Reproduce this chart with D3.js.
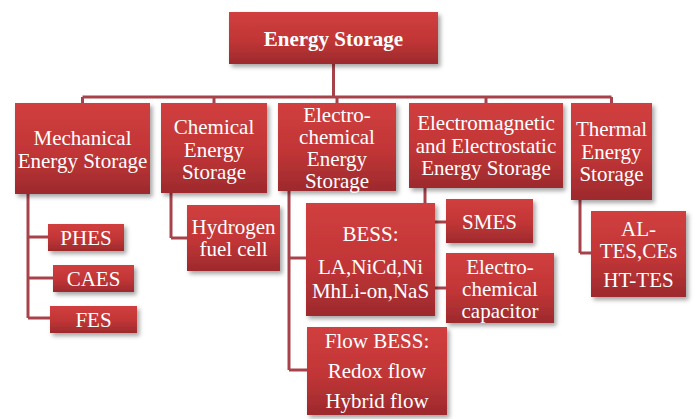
<!DOCTYPE html>
<html>
<head>
<meta charset="utf-8">
<script src="https://cdn.jsdelivr.net/npm/d3@7"></script>
<style>
  html, body { margin: 0; padding: 0; background: #fff; }
  svg { display: block; }
  text { font-family: "Liberation Serif", "Times New Roman", serif; fill: #fff; }
</style>
</head>
<body>
<div id="chart"></div>
<script>
// ---- data ----
const rootLabel = ["Energy Storage"];
const categoryIds = ["mech", "chem", "elec", "emag", "therm"];
const categoryLabels = [
  ["Mechanical", "Energy Storage"],
  ["Chemical", "Energy", "Storage"],
  ["Electro-", "chemical", "Energy", "Storage"],
  ["Electromagnetic", "and Electrostatic", "Energy Storage"],
  ["Thermal", "Energy", "Storage"],
];
const leafIds = ["phes", "caes", "fes", "h2", "bess", "flow", "smes", "ecap", "tes"];
const leafParents = ["mech", "mech", "mech", "chem", "elec", "elec", "emag", "emag", "therm"];
const leafLabels = [
  ["PHES"],
  ["CAES"],
  ["FES"],
  ["Hydrogen", "fuel cell"],
  ["BESS:", "LA,NiCd,Ni", "MhLi-on,NaS"],
  ["Flow BESS:", "Redox flow", "Hybrid flow"],
  ["SMES"],
  ["Electro-", "chemical", "capacitor"],
  ["AL-", "TES,CEs", "HT-TES"],
];

// ---- layout (box geometry, text line centres, connector positions) ----
const layout = {
  root:  { x: 229, y: 12,  w: 209, h: 52,  ty: [39] },
  mech:  { x: 15,  y: 103, w: 135, h: 91,  ty: [138, 161], trunk: 28 },
  chem:  { x: 161, y: 103, w: 106, h: 90,  ty: [127, 150, 172], trunk: 171 },
  elec:  { x: 278, y: 103, w: 118, h: 88,  ty: [115, 137, 159, 181], trunk: 289 },
  emag:  { x: 409, y: 103, w: 154, h: 85,  ty: [123, 146, 168], trunk: 425 },
  therm: { x: 571, y: 103, w: 81,  h: 97,  ty: [129, 152, 174], trunk: 580 },
  phes:  { x: 48,  y: 224, w: 76,  h: 27,  ty: [238], branch: 237 },
  caes:  { x: 53,  y: 265, w: 81,  h: 27,  ty: [279], branch: 278 },
  fes:   { x: 50,  y: 306, w: 87,  h: 27,  ty: [320], branch: 318 },
  h2:    { x: 187, y: 205, w: 93,  h: 66,  ty: [227, 249], branch: 238 },
  bess:  { x: 306, y: 203, w: 129, h: 113, ty: [234, 267, 291], branch: 258 },
  flow:  { x: 307, y: 327, w: 140, h: 88,  ty: [341, 371, 401], branch: 370 },
  smes:  { x: 446, y: 199, w: 87,  h: 44,  ty: [222], branch: 222 },
  ecap:  { x: 446, y: 253, w: 108, h: 70,  ty: [267, 289, 311], branch: 288 },
  tes:   { x: 591, y: 211, w: 95,  h: 86,  ty: [229, 251, 280], branch: 253 },
};
const busY = 97;
const lineColor = "#a8424a";

const W = 695, H = 419;
const svg = d3.select("#chart").append("svg").attr("width", W).attr("height", H);

const defs = svg.append("defs");
const grad = defs.append("linearGradient").attr("id", "boxFill").attr("x1", 0).attr("y1", 0).attr("x2", 0).attr("y2", 1);
grad.append("stop").attr("offset", "0%").attr("stop-color", "#d13f3f");
grad.append("stop").attr("offset", "55%").attr("stop-color", "#c13536");
grad.append("stop").attr("offset", "100%").attr("stop-color", "#9c2a2d");
const shadow = defs.append("filter").attr("id", "shadow").attr("x", "-10%").attr("y", "-10%").attr("width", "130%").attr("height", "140%");
shadow.append("feDropShadow").attr("dx", 2.5).attr("dy", 3).attr("stdDeviation", 2)
  .attr("flood-color", "#000").attr("flood-opacity", 0.35);

// ---- connectors ----
const links = svg.append("g").attr("stroke", lineColor).attr("stroke-width", 3).attr("fill", "none");
const r = layout.root;
const cx = (id) => layout[id].x + layout[id].w / 2;
links.append("line").attr("x1", cx("root")).attr("x2", cx("root")).attr("y1", r.y + r.h).attr("y2", busY);
const busX = d3.extent(categoryIds, cx);
links.append("line").attr("x1", busX[0]).attr("x2", busX[1]).attr("y1", busY).attr("y2", busY);
links.selectAll(".drop").data(categoryIds).join("line").attr("class", "drop")
  .attr("x1", cx).attr("x2", cx).attr("y1", busY).attr("y2", (d) => layout[d].y);

categoryIds.forEach((p) => {
  const kids = leafIds.filter((_, i) => leafParents[i] === p);
  const pl = layout[p];
  const maxY = d3.max(kids, (k) => layout[k].branch);
  links.append("line").attr("x1", pl.trunk).attr("x2", pl.trunk).attr("y1", pl.y + pl.h).attr("y2", maxY);
  links.selectAll(null).data(kids).join("line")
    .attr("x1", pl.trunk).attr("x2", (k) => layout[k].x)
    .attr("y1", (k) => layout[k].branch).attr("y2", (k) => layout[k].branch);
});

// ---- boxes ----
const nodes = [{ id: "root", lines: rootLabel, bold: true }]
  .concat(categoryIds.map((id, i) => ({ id, lines: categoryLabels[i] })))
  .concat(leafIds.map((id, i) => ({ id, lines: leafLabels[i] })));

const node = svg.append("g").selectAll("g").data(nodes).join("g");
node.append("rect")
  .attr("x", (d) => layout[d.id].x).attr("y", (d) => layout[d.id].y)
  .attr("width", (d) => layout[d.id].w).attr("height", (d) => layout[d.id].h)
  .attr("fill", "url(#boxFill)").attr("filter", "url(#shadow)");
node.each(function (d) {
  const l = layout[d.id];
  d3.select(this).selectAll("text").data(d.lines).join("text")
    .attr("x", l.x + l.w / 2)
    .attr("y", (t, i) => l.ty[i])
    .attr("dy", "0.35em")
    .attr("text-anchor", "middle")
    .attr("font-size", 21)
    .attr("font-weight", d.bold ? "bold" : "normal")
    .text((t) => t);
});
</script>
</body>
</html>
